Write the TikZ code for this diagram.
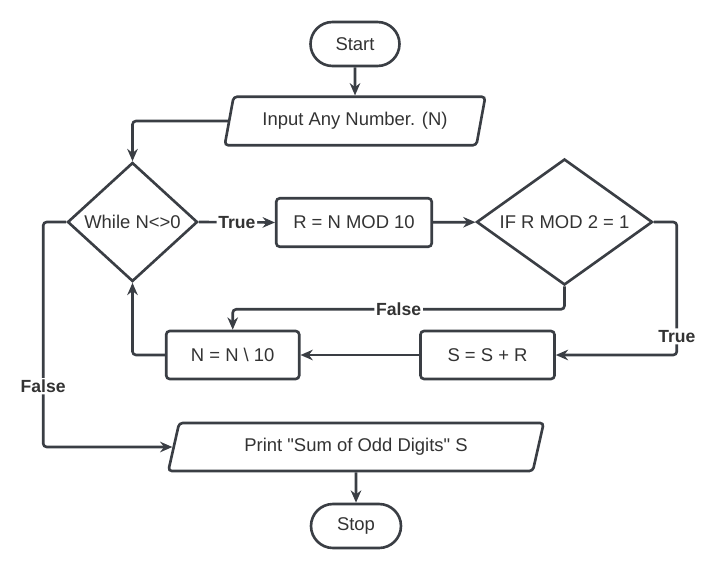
\documentclass[tikz,border=0pt]{standalone}
\usepackage{xcolor}
\usepackage{fontspec}
\setmainfont{Liberation Sans}
\newfontfamily\flowfont{Liberation Sans}
\usepackage{tikz}
\usetikzlibrary{shapes.geometric,arrows.meta}

\definecolor{lineC}{HTML}{3A3E44}
\definecolor{textC}{HTML}{333333}

\begin{document}
\begin{tikzpicture}[x=0.02cm, y=-0.02cm, >={Stealth[length=7pt,width=6pt]}, line width=1.5pt]
  \tikzstyle{term}=[rectangle, draw=lineC, rounded corners=0.44cm,
                    minimum width=1.78cm, minimum height=0.88cm,
                    text=textC, font=\flowfont\fontsize{10.5}{12}\selectfont]
  \tikzstyle{io}=[trapezium, trapezium left angle=76, trapezium right angle=104,
                  trapezium stretches=true, draw=lineC, rounded corners=2pt,
                  minimum height=0.97cm, text=textC, font=\flowfont\fontsize{10.5}{12}\selectfont]
  \tikzstyle{proc}=[rectangle, draw=lineC, rounded corners=2pt,
                    minimum height=0.97cm, text=textC, font=\flowfont\fontsize{10.5}{12}\selectfont]
  \tikzstyle{dec}=[diamond, draw=lineC, inner sep=0pt,
                   text=textC, font=\flowfont\fontsize{10.5}{12}\selectfont]
  \tikzstyle{arr}=[->, draw=lineC, rounded corners=2pt]
  \tikzstyle{lbl}=[fill=white, inner sep=1pt, text=textC, font=\flowfont\fontsize{10}{12}\selectfont\bfseries]

  \useasboundingbox (0,0) rectangle (713,571);

  \node[term] at (355, 44) (start) {Start};
  \node[io, minimum width=5.22cm] at (355,121) (input) {Input Any Number. (N)};

  \node[dec, aspect=1.1, minimum width=2.6cm, minimum height=2.38cm] at (132.5,222) (while) {While N<>0};
  \node[proc, minimum width=3.11cm] at (354,222.5) (rmod) {R = N MOD 10};
  \node[dec, aspect=1.4, minimum width=3.52cm, minimum height=2.52cm] at (564.5,222) (ifr) {IF R MOD 2 = 1};

  \node[proc, minimum width=2.66cm, minimum height=0.96cm] at (232.7,355) (ndiv) {N = N \textbackslash{} 10};
  \node[proc, minimum width=2.68cm, minimum height=0.96cm] at (487.5,355) (ssum) {S = S + R};

  \node[io, minimum width=7.52cm, minimum height=0.96cm] at (356,447) (print) {Print "Sum of Odd Digits" S};
  \node[term, minimum width=1.8cm] at (356,526) (stop) {Stop};

  \draw[arr] (start) -- (input);
  \draw[arr] (input.west) -| (while.north);
  \draw[arr] (while.east) -- node[lbl]{True} (rmod.west);
  \draw[arr] (rmod) -- (ifr);

  \draw[arr] (ifr.east) -- ++(23,0) |- node[lbl, pos=0.43]{True} (ssum.east);
  \draw[arr] (ifr.south) -- ++(0,23) -| node[lbl, pos=0.25]{False} (ndiv.north);
  \draw[arr] (ssum) -- (ndiv);
  \draw[arr] (ndiv.west) -| (while.south);

  \draw[arr] (while.west) -- ++(-23,0) |- node[lbl, pos=0.365]{False} (print.west);
  \draw[arr] (print) -- (stop);
\end{tikzpicture}
\end{document}
